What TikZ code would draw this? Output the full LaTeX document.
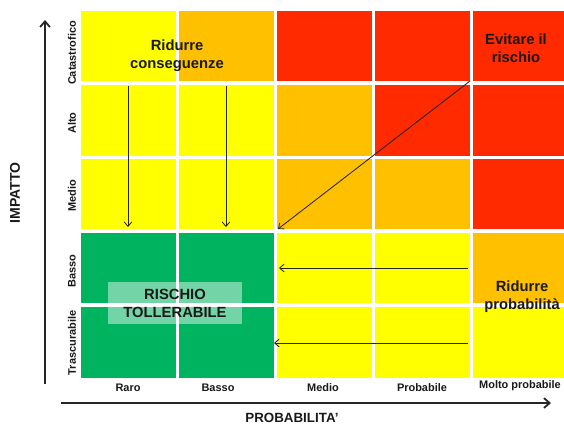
\documentclass[tikz,border=0pt]{standalone}
\usepackage{fontspec}
\usetikzlibrary{arrows.meta}
\setmainfont{Liberation Sans}
\definecolor{yel}{HTML}{FFFF00}
\definecolor{ora}{HTML}{FFC000}
\definecolor{rd}{HTML}{FF2A00}
\definecolor{grn}{HTML}{00B35F}
\begin{document}
\begin{tikzpicture}[x=0.25mm, y=-0.25mm, font=\bfseries, text=black!90,
    big/.style={align=center, font=\bfseries\fontsize{10.5}{12.8}\selectfont},
    small/.style={font=\bfseries\fontsize{7.8}{9}\selectfont},
    arr/.style={-{Straight Barb[length=3.2pt, width=5.5pt]}, line width=0.6pt, black!85},
    axis/.style={-{Straight Barb[length=4pt, width=7pt]}, line width=1.3pt, black!85}]
      \useasboundingbox (0,0) rectangle (564,430);
      \foreach \col [count=\i from 0] in {yel,ora,rd,rd,rd}
        \fill[\col] (81+98*\i, 11) rectangle +(95,70);
      \foreach \col [count=\i from 0] in {yel,yel,ora,rd,rd}
        \fill[\col] (81+98*\i, 85) rectangle +(95,71);
      \foreach \col [count=\i from 0] in {yel,yel,ora,ora,rd}
        \fill[\col] (81+98*\i, 159) rectangle +(95,70);
      \foreach \col [count=\i from 0] in {grn,grn,yel,yel,ora}
        \fill[\col] (81+98*\i, 233) rectangle +(95,70);
      \foreach \col [count=\i from 0] in {grn,grn,yel,yel,yel}
        \fill[\col] (81+98*\i, 307) rectangle +(95,71);
      \node[big] (T1) at (177, 56) {Ridurre\\conseguenze};
      \node[big] (T2) at (516, 48) {Evitare il\\rischio};
      \node[big] (T3) at (522, 297) {Ridurre\\probabilità};
      \node[big, fill=white, fill opacity=.45, text opacity=1, minimum width=33.25mm, minimum height=10.5mm] (T4) at (175, 303) {RISCHIO\\TOLLERABILE};
      \node[small, rotate=90] (R1) at (72, 53) {Catastrofico};
      \node[small, rotate=90] (R2) at (72, 123) {Alto};
      \node[small, rotate=90] (R3) at (72, 196) {Medio};
      \node[small, rotate=90] (R4) at (72, 271) {Basso};
      \node[small, rotate=90] (R5) at (72, 343) {Trascurabile};
      \node[small] (C1) at (128, 388) {Raro};
      \node[small] (C2) at (218, 388) {Basso};
      \node[small] (C3) at (323, 388) {Medio};
      \node[small] (C4) at (422, 388) {Probabile};
      \node[small] (C5) at (520, 386) {Molto probabile};
      \node[font=\bfseries\fontsize{10}{12}\selectfont, rotate=90] (IM) at (15, 193) {IMPATTO};
      \node[font=\bfseries\fontsize{9.5}{12}\selectfont] (PR) at (292, 418) {PROBABILITA’};
      \coordinate (P1) at (128, 86);
      \coordinate (P2) at (128, 227);
      \coordinate (P3) at (226, 86);
      \coordinate (P4) at (226, 227);
      \coordinate (P5) at (470, 81);
      \coordinate (P6) at (278, 229);
      \coordinate (P7) at (468, 268);
      \coordinate (P8) at (279, 268);
      \coordinate (P9) at (468, 343);
      \coordinate (P10) at (274, 343);
      \coordinate (Y0) at (45, 384);
      \coordinate (Y1) at (45, 20);
      \coordinate (X0) at (61, 403);
      \coordinate (X1) at (551, 403);
      \draw[arr] (P1) -- (P2);
      \draw[arr] (P3) -- (P4);
      \draw[arr] (P5) -- (P6);
      \draw[arr] (P7) -- (P8);
      \draw[arr] (P9) -- (P10);
      \draw[axis] (Y0) -- (Y1);
      \draw[axis] (X0) -- (X1);
    \end{tikzpicture}
\end{document}
